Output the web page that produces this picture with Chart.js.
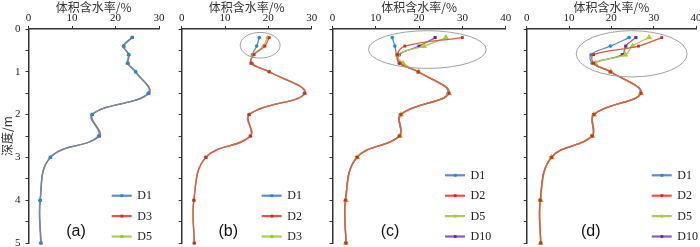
<!DOCTYPE html>
<html>
<head>
<meta charset="utf-8">
<script src="https://cdn.jsdelivr.net/npm/chart.js@4.4.1/dist/chart.umd.min.js"></script>
<style>
    html, body { margin: 0; padding: 0; background: #fff; }
    #wrap { position: relative; width: 700px; height: 247px; overflow: hidden; }
    canvas { position: absolute; top: 0; }
</style>
</head>
<body>
<div id="wrap">
    <canvas id="pa" width="170" height="247" style="left:0px"></canvas>
    <canvas id="pb" width="152" height="247" style="left:170px"></canvas>
    <canvas id="pc" width="196" height="247" style="left:322px"></canvas>
    <canvas id="pd" width="182" height="247" style="left:518px"></canvas>
</div>
<script>
// depth of each sample (m)
const depths = [0.2, 0.4, 0.6, 0.8, 1.0, 1.5, 2.0, 2.5, 3.0, 4.0, 5.0];
const depthTicks = [0, 1, 2, 3, 4, 5];
const moistTicks = [0, 10, 20, 30, 40];

// (a)
const aD1 = [23.8, 21.9, 23.0, 22.8, 24.6, 27.5, 14.6, 16.1, 5.0, 2.65, 2.8];
const aD3 = [23.9, 21.8, 23.1, 22.9, 24.6, 27.7, 14.7, 16.3, 5.1, 2.7, 2.9];
const aD5 = [23.8, 22.0, 23.0, 22.7, 24.7, 27.6, 14.6, 16.2, 5.0, 2.7, 2.8];
// (b)
const bD1 = [17.9, 17.3, 16.3, 16.2, 20.2, 28.3, 15.5, 15.8, 5.5, 2.8, 2.9];
const bD2 = [20.2, 19.2, 16.7, 16.0, 20.2, 28.4, 15.6, 15.9, 5.6, 2.8, 2.9];
const bD3 = [19.8, 18.8, 16.5, 16.0, 20.3, 28.5, 15.6, 15.9, 5.6, 2.8, 2.9];
// (c)
const cD1 = [13.8, 14.4, 14.8, 15.4, 19.7, 26.7, 15.7, 15.4, 5.6, 3.0, 3.1];
const cD2 = [30.0, 16.7, 15.0, 15.6, 19.8, 26.9, 15.8, 15.5, 5.7, 3.0, 3.1];
const cD5 = [26.2, 21.1, 15.0, 16.3, 19.9, 26.9, 15.8, 15.6, 5.7, 3.1, 3.1];
const cD10 = [23.7, 20.0, 15.4, 15.6, 19.8, 26.8, 15.7, 15.5, 5.6, 3.0, 3.1];
// (d)
const dD1 = [24.2, 19.8, 15.2, 15.5, 19.7, 26.9, 15.8, 15.4, 5.8, 3.2, 3.3];
const dD2 = [31.9, 26.4, 15.8, 15.8, 19.8, 27.0, 15.9, 15.5, 5.9, 3.2, 3.3];
const dD5 = [28.9, 25.0, 23.3, 16.2, 19.9, 27.0, 15.9, 15.5, 5.9, 3.3, 3.3];
const dD10 = [25.8, 23.4, 22.6, 16.0, 19.8, 26.9, 15.8, 15.4, 5.8, 3.2, 3.3];

// z: lower draws on top
const look = {
    D1:  { line: '#5a8dcc', pt: '#1c8ae0', shape: 'circle',   r: 1.8, z: 3 },
    D2:  { line: '#e8563c', pt: '#e2221a', shape: 'rect',     r: 2,   z: 0 },
    D3:  { line: '#a6cf52', pt: '#96c43a', shape: 'triangle', r: 2.6, z: 1 },
    D5:  { line: '#a6cf52', pt: '#a8cc2a', shape: 'triangle', r: 3.6, z: 1 },
    D10: { line: '#8a5cb0', pt: '#6a2c92', shape: 'rect',     r: 2.2, z: 2 }
};
const aLook = {
    D1: { line: '#5a8dcc', pt: '#1c8ae0', shape: 'circle',   r: 1.8, z: 0 },
    D3: { line: '#e8563c', pt: '#e2221a', shape: 'rect',     r: 2,   z: 1 },
    D5: { line: '#a6cf52', pt: '#96c43a', shape: 'triangle', r: 2.6, z: 2 }
};

const overlay = {
    id: 'overlay',
    afterDatasetsDraw(chart) {
        const o = chart.options.plugins.overlay;
        const ctx = chart.ctx, x = chart.scales.x, y = chart.scales.y;
        if (o.ellipse) {
            const e = o.ellipse;
            const cx = x.getPixelForValue(e.cx), cy = y.getPixelForValue(e.cy);
            const rx = Math.abs(x.getPixelForValue(e.cx + e.rx) - cx);
            const ry = Math.abs(y.getPixelForValue(e.cy + e.ry) - cy);
            ctx.save();
            ctx.strokeStyle = '#a0a0a0';
            ctx.lineWidth = 1;
            ctx.beginPath();
            ctx.ellipse(cx, cy, rx, ry, 0, 0, Math.PI * 2);
            ctx.stroke();
            ctx.restore();
        }
    },
    afterDraw(chart) {
        const o = chart.options.plugins.overlay;
        const ctx = chart.ctx, area = chart.chartArea;
        const n = chart.data.datasets.length;
        ctx.save();
        chart.data.datasets.forEach((ds, i) => {
            const yy = 236.5 - (n - 1 - i) * 20.4;
            const x0 = area.left + o.legendX;
            ctx.strokeStyle = ds.borderColor;
            ctx.lineWidth = 2.2;
            ctx.beginPath();
            ctx.moveTo(x0, yy);
            ctx.lineTo(x0 + 20, yy);
            ctx.stroke();
            ctx.fillStyle = ds.pointBackgroundColor;
            ctx.fillRect(x0 + 8.8, yy - 1.4, 2.8, 2.8);
            ctx.fillStyle = '#222';
            ctx.font = '12px "Liberation Serif"';
            ctx.textBaseline = 'middle';
            ctx.textAlign = 'left';
            ctx.fillText(ds.label, x0 + 25.6, yy + 0.5);
        });
        ctx.font = '16px "Liberation Sans"';
        ctx.textAlign = 'center';
        ctx.textBaseline = 'middle';
        ctx.fillStyle = '#111';
        ctx.fillText(o.letter, area.left + o.letterX, 232);
        ctx.restore();
    }
};

function panel(id, p) {
    const styles = p.styles || look;
    const datasets = p.series.map(([name, vals]) => {
        const s = styles[name];
        return {
            label: name,
            data: vals.map((v, i) => ({ x: v, y: depths[i] })),
            order: s.z,
            borderColor: s.line,
            borderWidth: 1.3,
            tension: 0.4,
            pointStyle: s.shape,
            pointRadius: s.r,
            pointBackgroundColor: s.pt,
            pointBorderColor: s.pt,
            pointBorderWidth: 0,
            clip: false
        };
    });
    new Chart(document.getElementById(id), {
        type: 'line',
        data: { datasets },
        plugins: [overlay],
        options: {
            responsive: false,
            animation: false,
            events: [],
            layout: { padding: { left: 0, top: 0, right: p.padRight, bottom: 3 } },
            plugins: {
                legend: { display: false },
                tooltip: { enabled: false },
                overlay: { legendX: p.legendX, letter: p.letter, letterX: p.letterX, ellipse: p.ellipse }
            },
            scales: {
                x: {
                    type: 'linear',
                    position: 'top',
                    min: 0,
                    max: p.xMax,
                    afterBuildTicks: s => { s.ticks = moistTicks.filter(v => v <= p.xMax).map(v => ({ value: v })); },
                    afterFit: s => { s.height = 29; s.paddingLeft = 0; s.paddingRight = 0; },
                    ticks: { font: { family: 'Liberation Serif', size: 11 }, color: '#222', padding: 1, maxRotation: 0 },
                    grid: { drawOnChartArea: false, tickLength: 3, color: '#333' },
                    border: { color: '#333', width: 1.5 },
                    title: {
                        display: true, text: '体积含水率/%', color: '#333',
                        font: { family: 'Noto Sans CJK SC', size: 12 }, padding: { top: 0, bottom: 0 }
                    }
                },
                y: {
                    type: 'linear',
                    reverse: true,
                    min: 0,
                    max: 5,
                    afterBuildTicks: s => {
                        const t = [];
                        for (let i = 0; i < depthTicks.length; i++) {
                            t.push({ value: depthTicks[i] });
                            if (i < depthTicks.length - 1) t.push({ value: depthTicks[i] + 0.5 });
                        }
                        s.ticks = t;
                    },
                    afterFit: s => { s.width = p.axisW; s.paddingTop = 0; s.paddingBottom = 0; },
                    ticks: {
                        autoSkip: false,
                        font: { family: 'Liberation Serif', size: 11 }, color: '#222', padding: 5,
                        callback: v => (p.showY && Number.isInteger(v)) ? v : ''
                    },
                    grid: { drawOnChartArea: false, tickLength: 3, color: '#333' },
                    border: { color: '#333', width: 1.5 },
                    title: {
                        display: p.showY, text: '深度/m', color: '#333',
                        font: { family: 'Noto Sans CJK SC', size: 12 }, padding: 0
                    }
                }
            }
        }
    });
}

panel('pa', {
    series: [['D1', aD1], ['D3', aD3], ['D5', aD5]], styles: aLook,
    xMax: 30, axisW: 28.5, padRight: 11, showY: true,
    legendX: 83.2, letter: '(a)', letterX: 47.5
});
panel('pb', {
    series: [['D1', bD1], ['D2', bD2], ['D3', bD3]],
    xMax: 30, axisW: 11.7, padRight: 10.3, showY: false,
    legendX: 80, letter: '(b)', letterX: 46.6,
    ellipse: { cx: 18.1, cy: 0.38, rx: 4.6, ry: 0.3 }
});
panel('pc', {
    series: [['D1', cD1], ['D2', cD2], ['D5', cD5], ['D10', cD10]],
    xMax: 40, axisW: 10.5, padRight: 12.3, showY: false,
    legendX: 112.5, letter: '(c)', letterX: 57.5,
    ellipse: { cx: 21.9, cy: 0.48, rx: 13.6, ry: 0.44 }
});
panel('pd', {
    series: [['D1', dD1], ['D2', dD2], ['D5', dD5], ['D10', dD10]],
    xMax: 40, axisW: 8.7, padRight: 2, showY: false,
    legendX: 125, letter: '(d)', letterX: 64,
    ellipse: { cx: 24.8, cy: 0.58, rx: 13.1, ry: 0.54 }
});
</script>
</body>
</html>
